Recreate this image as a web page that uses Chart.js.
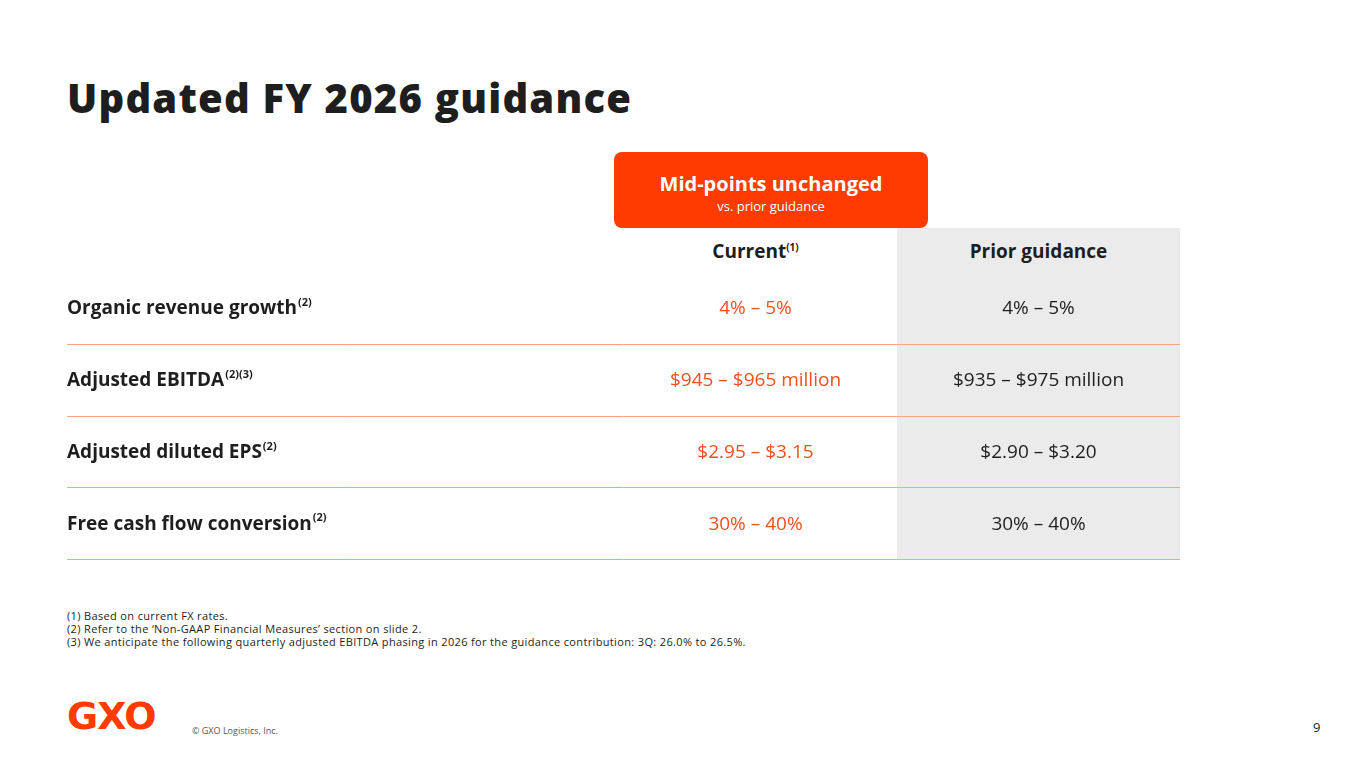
<!DOCTYPE html>
<html><head><meta charset="utf-8">
<script src="https://cdn.jsdelivr.net/npm/chart.js@4"></script>
<style>
body{margin:0;width:1365px;height:768px;background:#fff;font-family:"Open Sans",sans-serif;position:relative;overflow:hidden;color:#1e1e1e}
.abs{position:absolute}
h1{position:absolute;left:67px;top:70px;margin:0;font-size:40px;font-weight:800;color:#1e1e1e;letter-spacing:1.2px}
</style></head><body>
<h1>Updated FY 2026 guidance</h1>
<div class="abs" style="left:614px;top:152px;width:314px;height:76px;background:#ff3c00;border-radius:8px;color:#fff;text-align:center">
  <div style="margin-top:18px;font-size:20px;font-weight:700">Mid-points unchanged</div>
  <div style="font-size:13px">vs. prior guidance</div>
</div>
<div class="abs" style="left:897px;top:228px;width:283px;height:46px;background:#ebebeb"></div>
<div class="abs" style="left:614px;top:238px;width:283px;text-align:center;font-size:19px;font-weight:700">Current<sup style="font-size:10px">(1)</sup></div>
<div class="abs" style="left:897px;top:238px;width:283px;text-align:center;font-size:19px;font-weight:700">Prior guidance</div>
<div class="abs" style="left:48px;top:273px;width:1132px;height:287px"><canvas id="tbl"></canvas></div>
<div class="abs" style="left:67px;top:609px;font-size:11px;line-height:13px;letter-spacing:0.35px">(1) Based on current FX rates.<br>(2) Refer to the ‘Non-GAAP Financial Measures’ section on slide 2.<br>(3) We anticipate the following quarterly adjusted EBITDA phasing in 2026 for the guidance contribution: 3Q: 26.0% to 26.5%.</div>
<div class="abs" style="left:67px;top:694px;font-size:38px;font-weight:900;color:#ff3c00;letter-spacing:-1px;font-family:'DejaVu Sans',sans-serif">GXO</div>
<div class="abs" style="left:192px;top:724px;font-size:9px;color:#555">© GXO Logistics, Inc.</div>
<div class="abs" style="left:1313px;top:718px;font-size:13px">9</div>
<script>
const columns = ['', 'name', 'Current', 'Prior'];
const metrics = ['Organic revenue growth', 'Adjusted EBITDA', 'Adjusted diluted EPS', 'Free cash flow conversion'];
const notes = ['(2)', '(2)(3)', '(2)', '(2)'];
const current = ['4% – 5%', '$945 – $965 million', '$2.95 – $3.15', '30% – 40%'];
const prior = ['4% – 5%', '$935 – $975 million', '$2.90 – $3.20', '30% – 40%'];

const tablePlugin = {
  id: 'tablePlugin',
  beforeDatasetsDraw(chart) {
    const { ctx, scales: { x, y }, chartArea } = chart;
    const colW = x.getPixelForValue(3) - x.getPixelForValue(2);
    // grey prior column
    ctx.fillStyle = '#ebebeb';
    ctx.fillRect(x.getPixelForValue(3) - colW / 2, chartArea.top, colW, chartArea.bottom - chartArea.top);
    const rowH = y.getPixelForValue(1) - y.getPixelForValue(0);
    ctx.textBaseline = 'middle';
    metrics.forEach((m, i) => {
      const py = y.getPixelForValue(i);
      // separator
      ctx.strokeStyle = '#f5a488';
      ctx.lineWidth = 1;
      ctx.beginPath();
      ctx.moveTo(19, Math.round(py + rowH / 2) - 0.5);
      ctx.lineTo(chartArea.right, Math.round(py + rowH / 2) - 0.5);
      ctx.stroke();
      ctx.textAlign = 'left';
      ctx.fillStyle = '#1e1e1e';
      ctx.font = '700 19px "Open Sans"';
      ctx.fillText(m, 19, py);
      const w = ctx.measureText(m).width;
      ctx.font = '700 11px "Open Sans"';
      ctx.fillText(notes[i], 19 + w + 1, py - 6);
      ctx.textAlign = 'center';
      ctx.font = '400 19px "Open Sans"';
      ctx.fillStyle = '#f0501e';
      ctx.fillText(current[i], x.getPixelForValue(2), py);
      ctx.fillStyle = '#1e1e1e';
      ctx.fillText(prior[i], x.getPixelForValue(3), py);
    });
  }
};

new Chart(document.getElementById('tbl'), {
  type: 'scatter',
  data: { labels: columns, datasets: [{ data: [], pointRadius: 0 }] },
  options: {
    responsive: true, maintainAspectRatio: false, animation: false,
    layout: { padding: 0 },
    plugins: { legend: { display: false }, tooltip: { enabled: false } },
    scales: {
      x: { type: 'category', labels: columns, offset: true, display: false },
      y: { type: 'category', labels: metrics.map((m, i) => i), offset: true, display: false }
    }
  },
  plugins: [tablePlugin]
});
</script>
</body></html>
